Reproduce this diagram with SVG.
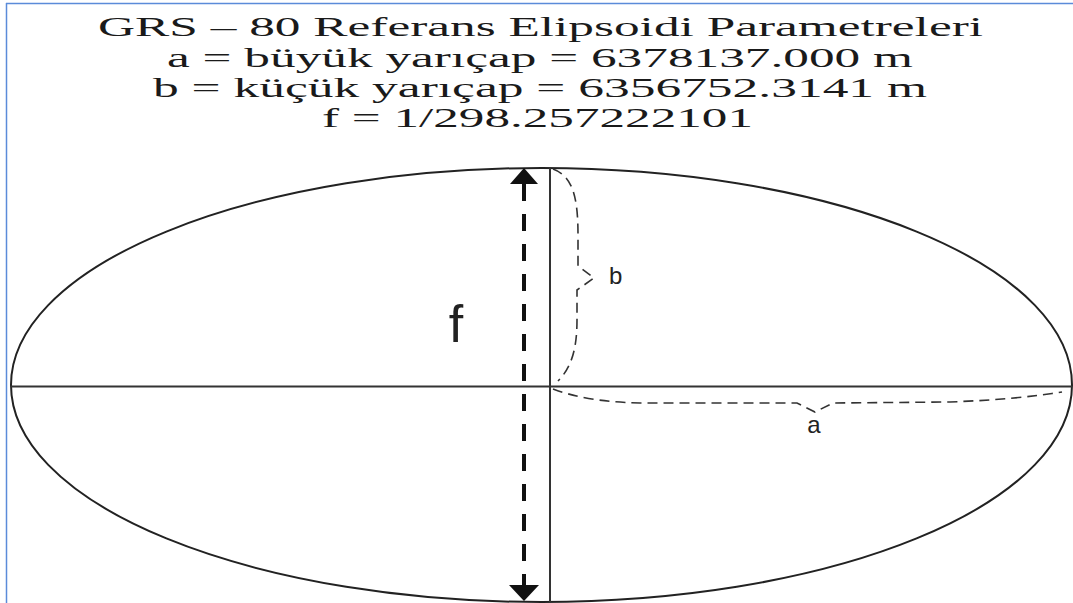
<svg xmlns="http://www.w3.org/2000/svg" width="1073" height="603" viewBox="0 0 1073 603">
<style>
.title{font-family:"Liberation Serif","Times New Roman",serif;font-size:28px;fill:#1a1a1a;text-anchor:middle}
.lbl{font-family:"Liberation Sans",Arial,sans-serif;fill:#222}
.thin{fill:none;stroke:#222;stroke-width:2}
.brace{fill:none;stroke:#333;stroke-width:1.6;stroke-dasharray:10 6}
</style>
<rect width="1073" height="603" fill="#ffffff"/>
<g id="frame">
<line x1="6" y1="3.5" x2="1073" y2="3.5" stroke="#5b8bd9" stroke-width="1.5"/>
<line x1="6.5" y1="3" x2="6.5" y2="603" stroke="#5b8bd9" stroke-width="1.5"/>
</g>
<g id="title">
<text class="title" x="540.5" y="36" textLength="885" lengthAdjust="spacingAndGlyphs">GRS – 80 Referans Elipsoidi Parametreleri</text>
<text class="title" x="540" y="67" textLength="746" lengthAdjust="spacingAndGlyphs">a = büyük yarıçap = 6378137.000 m</text>
<text class="title" x="540" y="97" textLength="774" lengthAdjust="spacingAndGlyphs">b = küçük yarıçap = 6356752.3141 m</text>
<text class="title" x="537.5" y="127" textLength="431" lengthAdjust="spacingAndGlyphs">f = 1/298.257222101</text>
</g>
<g id="ellipsoid">
<ellipse class="thin" cx="541.5" cy="385" rx="530.5" ry="217"/>
</g>
<g id="axes">
<line x1="11" y1="386.5" x2="1072" y2="386.5" stroke="#333" stroke-width="2"/>
<line x1="550" y1="167" x2="550" y2="603" stroke="#333" stroke-width="2"/>
</g>
<g id="connectors">
<line x1="524" y1="184" x2="524" y2="585" stroke="#111" stroke-width="4" stroke-dasharray="17 13"/>
<polygon points="524,168 510,184 538,184" fill="#111"/>
<polygon points="524,601 509,585 539,585" fill="#111"/>
<path class="brace" d="M553,169 C572,176 578,195 578,235 L578,266 L594,278 L577,290 L577,320 C577,350 571,368 558,381"/>
<path class="brace" d="M553,389 C575,397 600,402 640,403 L797,403 L815,412 L833,403 L950,402 C1000,400 1030,397 1062,392"/>
</g>
<g id="label-f">
<text class="lbl" x="456" y="342" font-size="52" text-anchor="middle">f</text>
</g>
<g id="label-b">
<text class="lbl" x="609" y="284" font-size="24">b</text>
</g>
<g id="label-a">
<text class="lbl" x="814" y="433" font-size="24" text-anchor="middle">a</text>
</g>
</svg>
